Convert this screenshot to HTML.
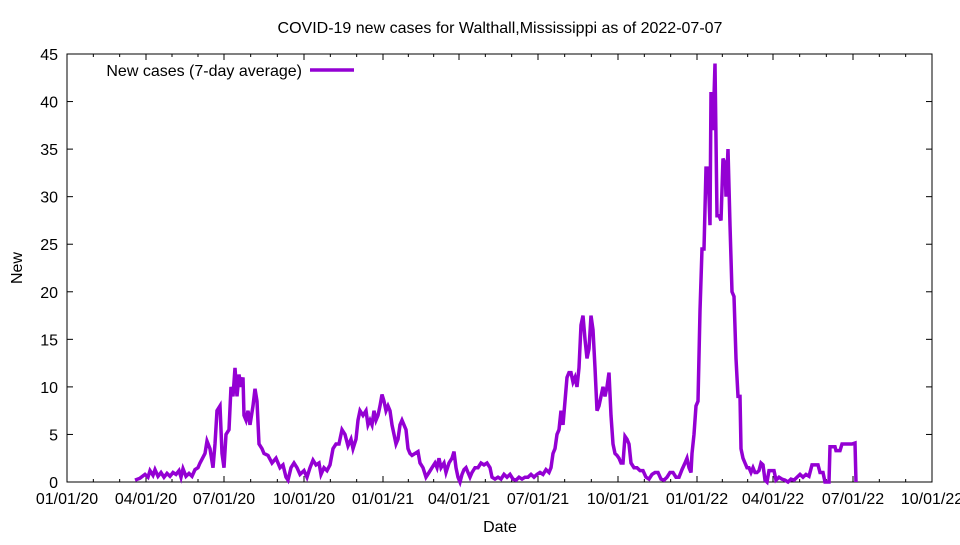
<!DOCTYPE html>
<html><head><meta charset="utf-8"><style>
html,body{margin:0;padding:0;background:#fff;}
svg text{font-family:"Liberation Sans",sans-serif;font-size:16px;fill:#000;}
</style></head><body>
<svg id="s" width="960" height="540" xmlns="http://www.w3.org/2000/svg">
<rect width="960" height="540" fill="#fff"/>
<text x="500" y="33" text-anchor="middle">COVID-19 new cases for Walthall,Mississippi as of 2022-07-07</text>
<g id="grid"></g>
<rect x="67" y="54" width="865" height="428" fill="none" stroke="#000" stroke-width="1"/>
<text x="22" y="268" text-anchor="middle" transform="rotate(-90 22 268)">New</text>
<text x="500" y="532" text-anchor="middle">Date</text>
<text x="302" y="76" text-anchor="end">New cases (7-day average)</text>
<line x1="310" y1="70" x2="354" y2="70" stroke="#9400d3" stroke-width="3.5"/>
<polyline id="p" fill="none" stroke="#9400d3" stroke-width="3.5" stroke-linejoin="miter"/>
</svg>
<script>
var NS="http://www.w3.org/2000/svg",g=document.getElementById('grid');
function el(t,a,txt){var e=document.createElementNS(NS,t);for(var k in a)e.setAttribute(k,a[k]);if(txt)e.textContent=txt;g.appendChild(e);}
function Y(v){return 482-v*9.511;}
for(var v=0;v<=45;v+=5){var y=Y(v);el('line',{x1:67,y1:y,x2:73,y2:y,stroke:'#000'});el('line',{x1:926,y1:y,x2:932,y2:y,stroke:'#000'});el('text',{x:58,y:y+6,'text-anchor':'end'},String(v));}
var labs=['01/01/20','04/01/20','07/01/20','10/01/20','01/01/21','04/01/21','07/01/21','10/01/21','01/01/22','04/01/22','07/01/22','10/01/22'];
var mx=[67,146,224,304,383,459,538,618,697,773,853,932];
for(var i=0;i<mx.length;i++){el('line',{x1:mx[i],y1:482,x2:mx[i],y2:476,stroke:'#000'});el('line',{x1:mx[i],y1:54,x2:mx[i],y2:60,stroke:'#000'});el('text',{x:mx[i],y:504,'text-anchor':'middle'},labs[i]);
 if(i<mx.length-1){for(var j=1;j<3;j++){var x=mx[i]+(mx[i+1]-mx[i])*j/3;el('line',{x1:x,y1:482,x2:x,y2:479,stroke:'#000'});el('line',{x1:x,y1:54,x2:x,y2:57,stroke:'#000'});}}}
var d=[135,.2,140,.4,145,.8,148,.5,150,1.2,153,.7,155,1.3,158,.6,161,1,164,.5,167,.9,170,.6,173,1,176,.8,179,1.2,181,.5,183,1.4,186,.6,189,.9,192,.6,195,1.3,198,1.5,200,2,203,2.6,205,3,207,4.3,210,3.5,213,1.5,215,4,217,7.5,220,8,222,3,224,1.5,226,5,229,5.5,231,10,233,9,235,12,237,9,239,11.3,241,10,243,11,244,7,246,6.5,248,7.5,250,6,253,8,255,9.8,257,8.5,259,4,262,3.5,264,3,268,2.8,272,2,276,2.5,280,1.5,283,1.8,286,.5,288,.2,291,1.5,294,2,297,1.5,300,.8,304,1.2,307,.5,310,1.5,313,2.3,316,1.8,319,2,321,.8,324,1.5,327,1.2,330,1.8,333,3.5,336,4,339,4,342,5.5,345,5,348,3.8,351,4.5,353,3.5,356,4.5,358,6.5,360,7.5,363,7,366,7.5,368,6,370,6.5,372,6,374,7.5,376,6.5,378,7,380,8,382,9.2,384,8.5,386,7.5,388,8,390,7.5,392,6,394,5,396,4,398,4.5,400,6,402,6.5,404,6,406,5.5,408,3.5,410,3,412,2.8,415,3,418,3.2,420,2,423,1.5,426,.5,429,1,432,1.5,435,2,437,1.5,439,2.5,441,1.5,444,2,446,1,449,2,452,2.5,454,3.2,456,1.5,458,.5,460,0,462,.8,464,1.3,466,1.5,468,1,470,.5,472,1,475,1.5,478,1.5,481,2,484,1.8,487,2,490,1.5,492,.5,495,.3,498,.5,501,.3,504,.8,507,.5,510,.8,513,.3,516,.2,519,.5,522,.3,525,.5,528,.5,531,.8,534,.5,537,.8,540,1,543,.8,546,1.3,549,1,551,1.5,553,3,555,3.5,557,5,559,5.5,561,7.5,563,6,565,8.5,567,11,569,11.5,571,11.5,573,10.5,575,11,577,10,579,12,581,16.5,583,17.5,585,15,587,13,589,14,591,17.5,593,16,595,12,597,7.5,599,8,601,9,603,10,605,9,607,10,609,11.5,611,7,613,4,615,3,617,2.8,619,2.5,621,2,623,2,625,4.8,627,4.5,629,4,631,2,634,1.5,637,1.5,640,1.2,643,1.2,646,.5,649,.3,652,.8,655,1,658,1,661,.3,664,.2,667,.5,670,1,673,1,676,.5,679,.5,682,1.3,685,2,687,2.5,689,1.5,691,1,692,3,694,5,696,8,698,8.5,700,18,702,24.5,704,24.5,706,33,708,33,710,27,711,41,713,37,715,44,717,28,719,28,721,27.5,723,34,725,33.5,726,30,728,35,730,27,732,20,734,19.5,736,13,738,9,740,9,741,3.5,743,2.5,745,2,747,1.5,749,1.5,751,1,753,1.5,755,1,757,1,759,1.2,761,2,763,1.8,765,.2,767,0,769,1.2,772,1.2,774,1.2,776,.2,779,.5,782,.3,785,.2,788,0,791,.3,794,.2,797,.5,800,.8,803,.5,806,.8,809,.6,812,1.8,815,1.8,818,1.8,820,1,823,1,825,0,829,0,830,3.7,835,3.7,836,3.3,840,3.3,842,4,848,4,852,4,855,4.1,856,0];
var pts=[];for(var i=0;i<d.length;i+=2)pts.push(d[i]+','+Y(d[i+1]).toFixed(1));
document.getElementById('p').setAttribute('points',pts.join(' '));
</script>
</body></html>
